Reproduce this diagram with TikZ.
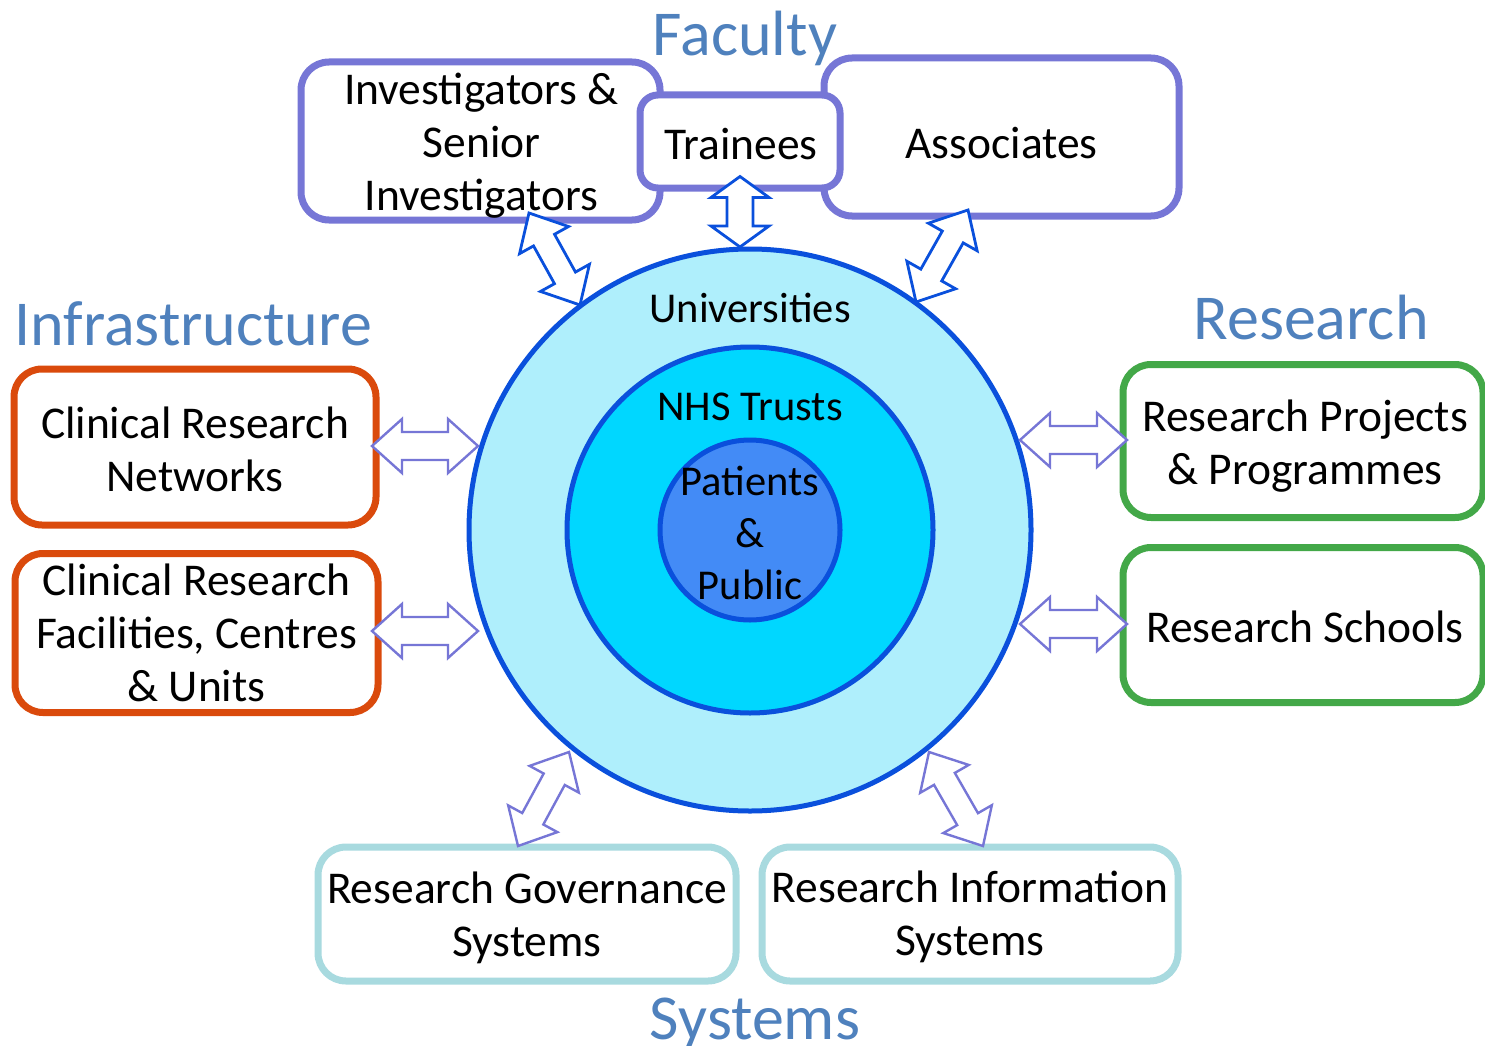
\documentclass[tikz,border=0pt]{standalone}
\usepackage{fontspec}
\setmainfont{Carlito}
\usetikzlibrary{calc}
\definecolor{purp}{HTML}{7676D6}
\definecolor{cblue}{HTML}{0A50DC}
\definecolor{outerfill}{HTML}{AFEFFC}
\definecolor{midfill}{HTML}{00D7FF}
\definecolor{innerfill}{HTML}{438BF6}
\definecolor{orng}{HTML}{DA4A0C}
\definecolor{grn}{HTML}{43A848}
\definecolor{teal2}{HTML}{A8DADF}
\definecolor{ttl}{HTML}{4F81BD}
\newcommand\dblarr[6]{%
  \coordinate (h1) at ($(#2)!#4!(#3)$);
  \coordinate (h2) at ($(#3)!#4!(#2)$);
  \draw[#1] (#2) -- ($(h1)!#5!90:(#3)$) -- ($(h1)!#6!90:(#3)$)
    -- ($(h2)!#6!-90:(#2)$) -- ($(h2)!#5!-90:(#2)$) -- (#3)
    -- ($(h2)!#5!90:(#2)$) -- ($(h2)!#6!90:(#2)$)
    -- ($(h1)!#6!-90:(#3)$) -- ($(h1)!#5!-90:(#3)$) -- cycle;
}
\tikzset{
  bodytext/.style={font={\fontsize{45.5}{53}\selectfont}, align=center, inner sep=0pt},
  circtext/.style={font={\fontsize{42.5}{51}\selectfont}, align=center, inner sep=0pt},
  titletext/.style={font={\fontsize{64}{72}\selectfont}, text=ttl, inner sep=0pt, anchor=base},
  boxbase/.style={rectangle, rounded corners=28pt, line width=7pt, fill=white, inner sep=0pt},
  pbox/.style={boxbase, draw=purp},
  obox/.style={boxbase, draw=orng},
  gbox/.style={boxbase, draw=grn},
  tbox/.style={boxbase, draw=teal2},
  ring/.style={circle, draw=cblue, line width=5pt, inner sep=0pt},
  blueArrow/.style={draw=cblue, line width=2.8pt, fill=white, line join=miter},
  purpArrow/.style={draw=purp, line width=2.4pt, fill=white, line join=miter},
}
\begin{document}
\begin{tikzpicture}[x=1pt,y=-1pt]
\useasboundingbox (0,0) rectangle (1485,1046);
% circles
\node[ring, fill=outerfill, minimum size=562pt] (outer) at (750,530) {};
\node[ring, fill=midfill, minimum size=366pt] (mid) at (750,530) {};
\node[ring, fill=innerfill, minimum size=180pt] (inner) at (750,530) {};
\node[circtext] (uni) at (750,308) {Universities};
\node[circtext] (nhs) at (750,407) {NHS Trusts};
\node[circtext] (pat) at (750,533) {Patients\\[1pt]\&\\[1pt]Public};
% faculty boxes
\node[pbox, minimum width=359pt, minimum height=158pt] (inv) at (480.5,141) {};
\node[pbox, minimum width=355pt, minimum height=158pt] (asc) at (1001.5,137) {};
\node[pbox, rounded corners=18pt, minimum width=200pt, minimum height=93pt] (trn) at (740,141.5) {};
\node[bodytext] (invT) at ($(inv.center)+(1,5)$) {Investigators \&\\Senior\\Investigators};
\node[bodytext] (ascT) at ($(asc.center)+(0,6)$) {Associates};
\node[bodytext] (trnT) at ($(trn.center)+(1,3)$) {Trainees};
% infrastructure boxes
\node[obox, minimum width=362pt, minimum height=156pt] (crn) at (195,447) {};
\node[obox, minimum width=363pt, minimum height=159pt] (crf) at (196.5,633) {};
\node[bodytext] (crnT) at ($(crn.center)+(0,2)$) {Clinical Research\\Networks};
\node[bodytext] (crfT) at ($(crf.center)+(0,0)$) {Clinical Research\\Facilities, Centres\\\& Units};
% research boxes
\node[gbox, minimum width=360pt, minimum height=153pt] (rpp) at (1303,441) {};
\node[gbox, minimum width=360pt, minimum height=155pt] (rs) at (1303,625) {};
\node[bodytext] (rppT) at ($(rpp.center)+(2,5)$) {Research Projects\\\& Programmes};
\node[bodytext] (rsT) at ($(rs.center)+(2,2)$) {Research Schools};
% systems boxes
\node[tbox, minimum width=418pt, minimum height=134pt] (rgs) at (527,914) {};
\node[tbox, minimum width=416pt, minimum height=134pt] (ris) at (970,914) {};
\node[bodytext] (rgsT) at ($(rgs.center)+(0,4)$) {Research Governance\\Systems};
\node[bodytext] (risT) at ($(ris.center)+(0,3)$) {Research Information\\Systems};
% titles
\node[titletext] (tfac) at (745,56) {Faculty};
\node[titletext] (tinf) at (193,345) {Infrastructure};
\node[titletext] (tres) at (1311,339) {Research};
\node[titletext] (tsys) at (755,1039) {Systems};
% arrow end points
\coordinate (tA) at ($(trn.south)+(0,-15)$);
\coordinate (tB) at (740,247);
\coordinate (iA) at (529,213);
\coordinate (iB) at (580,305);
\coordinate (aA) at (968,210);
\coordinate (aB) at (916,302);
\coordinate (cnA) at (372,446);
\coordinate (cnB) at (478,446);
\coordinate (cfA) at (372,631);
\coordinate (cfB) at (478,631);
\coordinate (rpA) at (1020,440);
\coordinate (rpB) at (1127,440);
\coordinate (rsA) at (1020,624);
\coordinate (rsB) at (1127,624);
\coordinate (gA) at (569,752);
\coordinate (gB) at (518,846);
\coordinate (nA) at (929,752);
\coordinate (nB) at (983,846);
% arrows
\dblarr{blueArrow}{tA}{tB}{21pt}{29pt}{13pt}
\dblarr{blueArrow}{iA}{iB}{31pt}{28pt}{12pt}
\dblarr{blueArrow}{aA}{aB}{31pt}{28pt}{12pt}
\dblarr{purpArrow}{cnA}{cnB}{30pt}{27pt}{14pt}
\dblarr{purpArrow}{cfA}{cfB}{30pt}{27pt}{14pt}
\dblarr{purpArrow}{rpA}{rpB}{30pt}{27pt}{14pt}
\dblarr{purpArrow}{rsA}{rsB}{30pt}{27pt}{14pt}
\dblarr{purpArrow}{gA}{gB}{31pt}{28pt}{12pt}
\dblarr{purpArrow}{nA}{nB}{31pt}{28pt}{12pt}
\end{tikzpicture}
\end{document}
